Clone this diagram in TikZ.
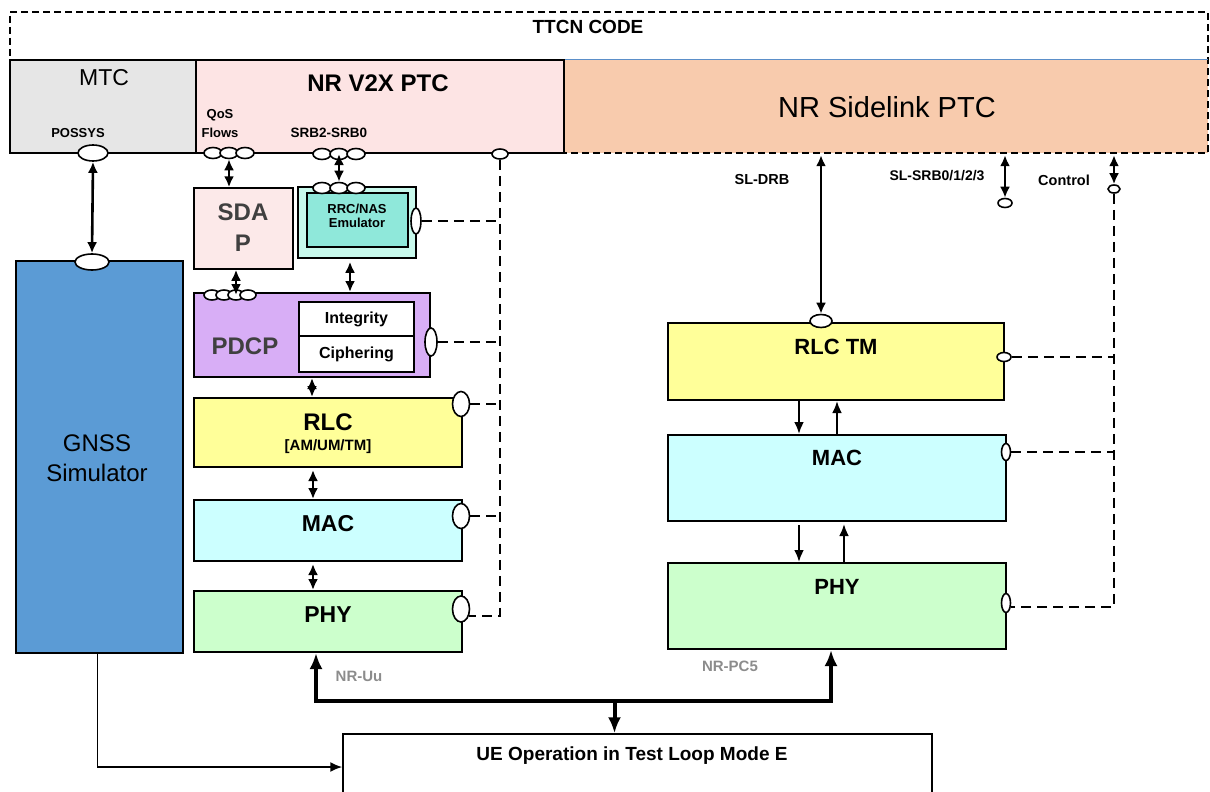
\documentclass[tikz,border=0pt]{standalone}
\usepackage{fontspec}
\setmainfont{Liberation Sans}
\usetikzlibrary{arrows.meta,fit,shapes.geometric}
\definecolor{mtcgray}{HTML}{E6E6E6}
\definecolor{v2xpink}{HTML}{FDE4E4}
\definecolor{slorange}{HTML}{F8CBAD}
\definecolor{sdappink}{HTML}{FCE9E9}
\definecolor{rrcouter}{HTML}{C8F9EC}
\definecolor{rrcinner}{HTML}{8FE8DA}
\definecolor{pdcpviolet}{HTML}{D8AEF6}
\definecolor{rlcyellow}{HTML}{FFFF99}
\definecolor{maccyan}{HTML}{CCFFFF}
\definecolor{phygreen}{HTML}{CCFFCC}
\definecolor{gnssblue}{HTML}{5B9BD5}
\definecolor{txtgray}{HTML}{404040}
\definecolor{lblgray}{HTML}{8C8C8C}
\definecolor{slblue}{HTML}{5B8FC9}
\newcommand\fsz[2]{\fontsize{#1}{#2}\selectfont}
\begin{document}
\begin{tikzpicture}[x=1pt,y=-1pt,
 box/.style={draw=black, line width=2pt, inner sep=0pt},
 port/.style={ellipse, draw=black, fill=white, line width=1.6pt, inner sep=0pt},
 txt/.style={inner sep=0pt, align=center},
 dbl/.style={{Latex[length=11pt,width=10pt]}-{Latex[length=11pt,width=10pt]}, line width=2.6pt},
 uni/.style={-{Latex[length=12pt,width=10pt]}, line width=2.4pt},
 ctl/.style={line width=2.2pt, dash pattern=on 10pt off 6pt},
 fat/.style={line width=4.5pt, {Latex[length=16pt,width=13pt]}-{Latex[length=16pt,width=13pt]}},
]
\useasboundingbox (0,0) rectangle (1210,792);

% top row
\node[fit={(564,60)(1208,153)}, inner sep=0pt, fill=slorange] (sl) {};
\node[fit={(10,12)(1208,153)}, inner sep=0pt, draw, line width=1.5pt, dash pattern=on 7pt off 4pt] (ttcn) {};
\draw[slblue, line width=1.2pt] (sl.north west) -- (sl.north east);
\node[box, fill=mtcgray, fit={(10,60)(196,153)}] (mtc) {};
\node[box, fill=v2xpink, fit={(196,60)(564,153)}] (v2x) {};

\node[txt, font=\bfseries\fsz{19}{22}] (ttcnt) at (588,27) {TTCN CODE};
\node[txt, font=\fsz{29}{34}] (slt) at (887,107) {NR Sidelink PTC};
\node[txt, font=\fsz{23}{27}] (mtct) at (104,78) {MTC};
\node[txt, font=\bfseries\fsz{13}{16}] (possyst) at (78,133) {POSSYS};
\node[txt, font=\bfseries\fsz{24}{28}] (v2xt) at (378,83) {NR V2X PTC};
\node[txt, font=\bfseries\fsz{13}{19}] (qost) at (220,124) {QoS\\Flows};
\node[txt, font=\bfseries\fsz{13.5}{16}] (srbt) at (329,133) {SRB2-SRB0};

% left stack
\node[box, line width=1.5pt, fill=sdappink, fit={(194,188)(293,269)}] (sdap) {};
\node[box, line width=1.5pt, fill=rrcouter, fit={(298,187)(416,258)}] (rrcO) {};
\node[box, fill=rrcinner, fit={(307,193)(408,247)}] (rrcI) {};
\node[box, fill=pdcpviolet, fit={(194,293)(430,377)}] (pdcp) {};
\node[box, fill=white, fit={(299,302)(414,336)}] (integ) {};
\node[box, fill=white, fit={(299,336)(414,372)}] (ciph) {};
\node[box, fill=rlcyellow, fit={(194,398)(462,467)}] (rlc) {};
\node[box, fill=maccyan, fit={(194,500)(462,561)}] (mac) {};
\node[box, fill=phygreen, fit={(194,591)(462,652)}] (phy) {};
\node[box, fill=gnssblue, fit={(16,261)(183,653)}] (gnss) {};

\node[txt, font=\bfseries\fsz{24}{31}, text=txtgray] (sdapt) at (243,228) {SDA\\P};
\node[txt, font=\bfseries\fsz{13}{14}] (rrct) at (357,216) {RRC/NAS\\Emulator};
\node[txt, font=\bfseries\fsz{24}{28}, text=txtgray] (pdcpt) at (245,346) {PDCP};
\node[txt, font=\bfseries\fsz{16}{19}] (integt) at (integ.center) {Integrity};
\node[txt, font=\bfseries\fsz{16}{19}] (ciphert) at (ciph.center) {Ciphering};
\node[txt, font=\bfseries\fsz{24}{28}] (rlct) at (328,422) {RLC};
\node[txt, font=\bfseries\fsz{15}{18}] (rlcsub) at (328,447) {[AM/UM/TM]};
\node[txt, font=\bfseries\fsz{23}{27}] (mact) at (328,524) {MAC};
\node[txt, font=\bfseries\fsz{23}{27}] (phyt) at (328,615) {PHY};
\node[txt, font=\fsz{24}{30}] (gnsst) at (97,458) {GNSS\\Simulator};

% right stack
\node[box, fill=rlcyellow, fit={(668,323)(1004,400)}] (rlctm) {};
\node[box, fill=maccyan, fit={(668,435)(1006,521)}] (macR) {};
\node[box, fill=phygreen, fit={(668,563)(1006,649)}] (phyR) {};
\node[txt, font=\bfseries\fsz{22}{26}] (rlctmt) at (836,347) {RLC TM};
\node[txt, font=\bfseries\fsz{22}{26}] (macRt) at (837,458) {MAC};
\node[txt, font=\bfseries\fsz{22}{26}] (phyRt) at (837,587) {PHY};
\node[txt, font=\bfseries\fsz{14.5}{17}] (drbt) at (762,180) {SL-DRB};
\node[txt, font=\bfseries\fsz{14}{17}] (slsrbt) at (937,176) {SL-SRB0/1/2/3};
\node[txt, font=\bfseries\fsz{14.5}{17}] (ctlt) at (1064,180) {Control};

% bottom
\node[box, line width=1.5pt, fill=white, fit={(343,734)(932,800)}] (ue) {};
\node[txt, font=\bfseries\fsz{19}{22}] (uet) at (632,756) {UE Operation in Test Loop Mode E};
\node[txt, font=\bfseries\fsz{15}{18}, text=lblgray] (nruut) at (359,676) {NR-Uu};
\node[txt, font=\bfseries\fsz{15}{18}, text=lblgray] (nrpc5t) at (730,666) {NR-PC5};

% ports
\node[port, minimum width=30pt, minimum height=16pt] (possysE) at (93,153) {};
\node[port, minimum width=18pt, minimum height=11pt] (q1) at (213,153) {};
\node[port, minimum width=18pt, minimum height=11pt] (q2) at (229,153) {};
\node[port, minimum width=18pt, minimum height=11pt] (q3) at (245,153) {};
\node[port, minimum width=18pt, minimum height=11pt] (s1) at (322,154) {};
\node[port, minimum width=18pt, minimum height=11pt] (s2) at (339,154) {};
\node[port, minimum width=18pt, minimum height=11pt] (s3) at (356,154) {};
\node[port, minimum width=16pt, minimum height=10pt] (v2xc) at (500,154) {};
\node[port, minimum width=18pt, minimum height=11pt] (r1) at (322,188) {};
\node[port, minimum width=18pt, minimum height=11pt] (r2) at (339,188) {};
\node[port, minimum width=18pt, minimum height=11pt] (r3) at (356,188) {};
\node[port, minimum width=10pt, minimum height=26pt] (rrcE) at (416,221) {};
\node[port, minimum width=16pt, minimum height=10pt] (pe1) at (212,295) {};
\node[port, minimum width=16pt, minimum height=10pt] (pe2) at (224,295) {};
\node[port, minimum width=16pt, minimum height=10pt] (pe3) at (236,295) {};
\node[port, minimum width=16pt, minimum height=10pt] (pe4) at (248,295) {};
\node[port, minimum width=12pt, minimum height=28pt] (pdcpE) at (431,342) {};
\node[port, minimum width=17pt, minimum height=25pt] (rlcE) at (461,404) {};
\node[port, minimum width=17pt, minimum height=25pt] (macE) at (461,516) {};
\node[port, minimum width=17pt, minimum height=26pt] (phyE) at (461,609) {};
\node[port, minimum width=34pt, minimum height=16pt] (gnssE) at (92,262) {};
\node[port, minimum width=22pt, minimum height=13pt] (drbE) at (821,321) {};
\node[port, minimum width=14pt, minimum height=9pt] (srbE) at (1005,203) {};
\node[port, minimum width=12pt, minimum height=8pt] (ctlE) at (1114,189) {};
\node[port, minimum width=14pt, minimum height=9pt] (rlctmE) at (1004,357) {};
\node[port, minimum width=9pt, minimum height=17pt] (macRE) at (1006,452) {};
\node[port, minimum width=9pt, minimum height=19pt] (phyRE) at (1006,603) {};

% arrows left
\draw[dbl] (possysE.south) -- (gnssE.north);
\draw[dbl] (q2.south) -- (q2.south |- sdap.north);
\draw[dbl] (s2.center) -- (r2.north);
\draw[dbl] (pe3.center |- sdap.south) -- (pe3.center);
\draw[dbl, shorten <=3pt] ([xshift=-7pt]rrcO.south) -- ([xshift=-7pt]rrcO.south |- pdcp.north);
\draw[dbl] (pdcp.south) -- (pdcp.south |- rlc.north);
\draw[dbl, shorten <=2pt] ([xshift=-15pt]rlc.south) -- ([xshift=-15pt]mac.north);
\draw[dbl, shorten <=2pt] ([xshift=-15pt]mac.south) -- ([xshift=-15pt]phy.north);

% arrows right
\draw[uni] ([xshift=-37pt]rlctm.south) -- ([xshift=-38pt]macR.north);
\draw[uni] (macR.north) -- (macR.north |- rlctm.south);
\draw[uni, shorten <=3pt] ([xshift=-38pt]macR.south) -- ([xshift=-38pt]macR.south |- phyR.north);
\draw[uni, shorten >=2pt] ([xshift=7pt]phyR.north) -- ([xshift=7pt]phyR.north |- macR.south);
\draw[dbl, shorten <=2pt] (sl.south -| drbE.north) -- (drbE.north);
\draw[dbl, shorten <=2pt] (sl.south -| srbE.north) -- (srbE.north);
\draw[dbl, shorten <=2pt] (sl.south -| ctlE.north) -- (ctlE.north);

% control lines
\draw[ctl] (v2xc.south) |- (phyE.-40);
\draw[ctl] (rrcE.east) -- (rrcE.east -| v2xc.south);
\draw[ctl] (pdcpE.east) -- (pdcpE.east -| v2xc.south);
\draw[ctl] (rlcE.east) -- (rlcE.east -| v2xc.south);
\draw[ctl] (macE.east) -- (macE.east -| v2xc.south);
\draw[ctl] (ctlE.south) |- ([yshift=-4pt]phyRE.east);
\draw[ctl] (rlctmE.east) -- (rlctmE.east -| ctlE.south);
\draw[ctl] (macRE.east) -- (macRE.east -| ctlE.south);

% bottom connections
\draw[line width=1.8pt, -{Latex[length=12pt,width=10pt]}] ([xshift=-2pt]gnss.south) |- (ue.west);
\coordinate (busR) at (831,701);
\draw[fat] ([xshift=-12pt]phy.south) |- (busR) -- ([xshift=-6pt]phyR.south);
\draw[line width=4pt, -{Latex[length=16pt,width=13pt]}] ([xshift=-23pt]ue.north |- busR) -- ([xshift=-23pt]ue.north);
\end{tikzpicture}
\end{document}
